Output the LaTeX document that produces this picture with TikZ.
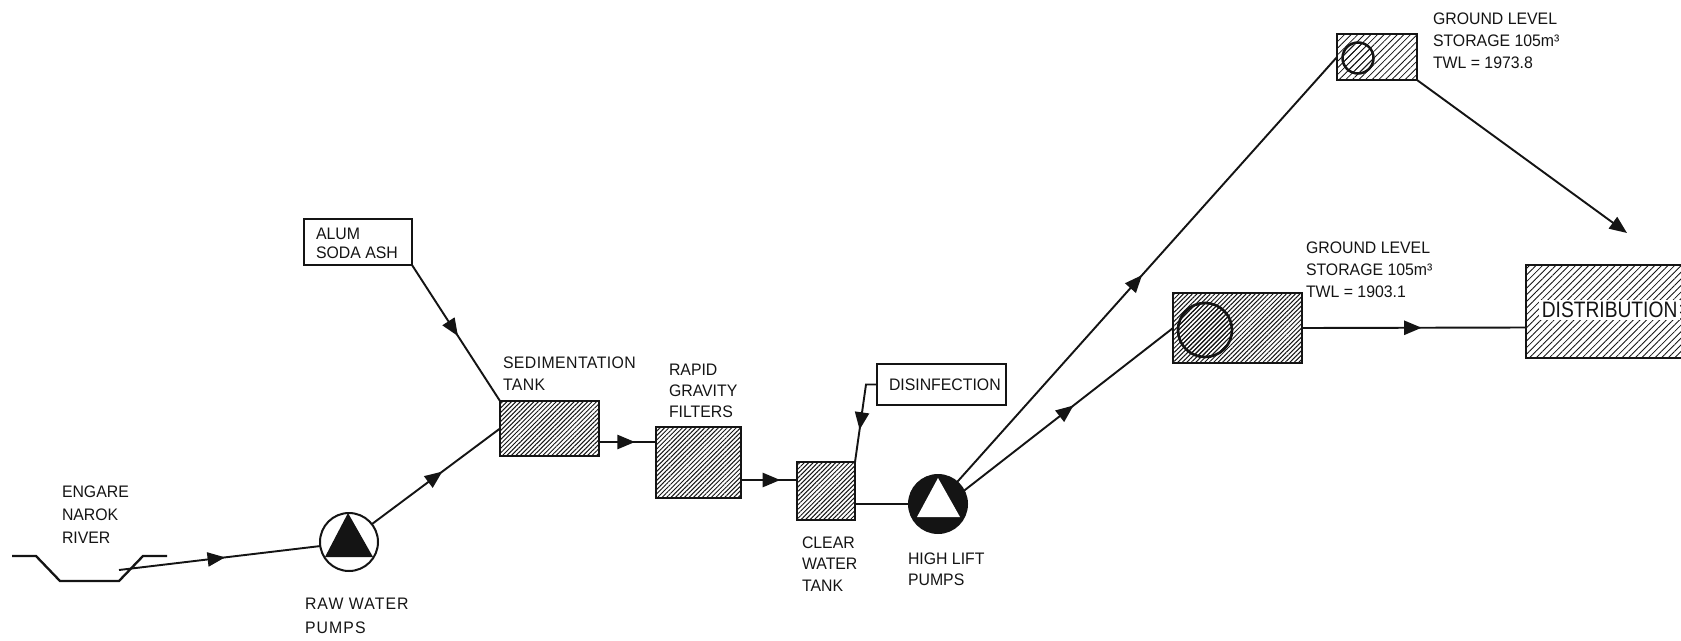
\documentclass[tikz,border=0pt]{standalone}
\usepackage{fontspec}
\usetikzlibrary{arrows.meta,patterns.meta,decorations.markings}
\newfontfamily\lab[FakeStretch=0.95]{Liberation Sans}
\newfontfamily\labw[FakeStretch=0.95,LetterSpace=6.4]{Liberation Sans}
\newfontfamily\labs[FakeStretch=0.95,LetterSpace=2.5]{Liberation Sans}
\newfontfamily\labn[FakeStretch=0.86]{Liberation Sans}
\definecolor{ink}{gray}{0.08}
\tikzset{
  conn/.style={line width=1.15pt,draw=ink},
  flow/.style={conn,postaction={decorate,decoration={markings,mark=at position #1 with {\arrow{Triangle[length=10.5pt,width=8.5pt]}}}}},
  endflow/.style={conn,-{Triangle[length=10.5pt,width=8.5pt]}},
  box/.style 2 args={draw=ink,line width=1.7pt,inner sep=0pt,outer sep=0pt,minimum width=#1*0.6pt,minimum height=#2*0.6pt},
  dense/.style={pattern={Lines[angle=45,distance=1.9pt,line width=.6pt]},pattern color=ink},
  sparse/.style={pattern={Lines[angle=45,distance=2.8pt,line width=.5pt]},pattern color=ink},
  disc/.style={circle,draw=ink,inner sep=0pt,outer sep=0pt,minimum size=#1*0.6pt},
  txt/.style={inner sep=0pt,outer sep=0pt,align=left,anchor=south west,text=ink,font=\lab\fontsize{10}{12.8}\selectfont},
}
\begin{document}
\begin{tikzpicture}[x=0.6pt,y=-0.6pt]
\useasboundingbox (0,0) rectangle (1681,640);
% river
\coordinate (r1) at (12,556); \coordinate (r2) at (36,556); \coordinate (r3) at (60,581);
\coordinate (r4) at (119,581); \coordinate (r5) at (143,556); \coordinate (r6) at (167,556);
\coordinate (intake) at (119,570);
\draw[line width=1.4pt,draw=ink] (r1) -- (r2) -- (r3) -- (r4) -- (r5) -- (r6);
% pumps
\node[disc=58,fill=white,line width=1.2pt] (raw) at (349,542) {};
\fill[ink] (348,513) -- (373,557) -- (325,557) -- cycle;
\node[disc=58,fill=ink,line width=1.2pt] (hl) at (938,504) {};
\fill[white] (938,478) -- (960,517) -- (917,517) -- cycle;
% boxes
\node[box={99}{55},dense] (sed) at (549.5,428.5) {};
\node[box={85}{71},dense] (filter) at (698.5,462.5) {};
\node[box={58}{58},dense] (clear) at (826,491) {};
\node[box={108}{46}] (alum) at (358,242) {};
\node[box={129}{41}] (dis) at (941.5,384.5) {};
\node[box={80}{46},sparse] (top) at (1377,57) {};
\node[disc=31,fill=white,line width=1.5pt,sparse] (topc) at (1358,58) {};
\node[box={129}{70},dense] (low) at (1237.5,328) {};
\node[disc=54,fill=white,line width=1.6pt,dense] (lowc) at (1205,330) {};
\begin{scope}
\clip (0,0) rectangle (1681,640);
\node[box={175}{93},sparse] (dist) at (1613.5,311.5) {};
\node[inner sep=1.5pt,fill=white,text=ink,font=\labn\fontsize{13.4}{15}\selectfont,anchor=west] (distt) at (1539,310) {DISTRIBUTION};
\end{scope}
% connectors
\draw[flow=.527] (intake) -- (raw.188);
\draw[flow=.55] (raw.38) -- (sed.west);
\draw[flow=.523] (alum.south east) -- (sed.north west);
\draw[flow=.63] ([yshift=-8.1pt]sed.east) -- ([yshift=12.3pt]filter.west);
\draw[flow=.70] ([yshift=-10.5pt]filter.east) -- ([yshift=6.6pt]clear.west);
\draw[flow=.635] (dis.west) -- ++(-11,0) -- (clear.north east);
\draw[conn] ([yshift=-7.8pt]clear.east) -- (hl.west);
\draw[flow=.487] (hl.49) -- (top.west);
\draw[flow=.524] (hl.27) -- (low.west);
\draw[flow=.534] (low.east) -- ([yshift=-9.6pt]dist.west);
\coordinate (feed) at (1627,233);
\draw[endflow] (top.south east) -- (feed);
% labels
\node[txt] (t1) at (62,543) {ENGARE\\[1pt]NAROK\\[1pt]RIVER};
\node[txt,font=\labw\fontsize{10}{12.8}\selectfont] (t2) at (305,634) {RAW WATER\\[1.6pt]PUMPS};
\node[txt] (t3) at (316,259) {ALUM\\[-1.4pt]SODA ASH};
\node[txt,font=\labs\fontsize{10}{12.8}\selectfont] (t4) at (503,390) {SEDIMENTATION\\TANK};
\node[txt] (t5) at (669,418) {RAPID\\GRAVITY\\FILTERS};
\node[txt] (t6) at (802,591) {CLEAR\\WATER\\TANK};
\node[txt] (t7) at (908,586) {HIGH LIFT\\PUMPS};
\node[txt] (t8) at (889,391) {DISINFECTION};
\node[txt] (t9) at (1306,298) {GROUND LEVEL\\[.6pt]STORAGE 105m³\\[.6pt]TWL = 1903.1};
\node[txt] (t10) at (1433,69) {GROUND LEVEL\\[.4pt]STORAGE 105m³\\[.4pt]TWL = 1973.8};
\end{tikzpicture}
\end{document}
